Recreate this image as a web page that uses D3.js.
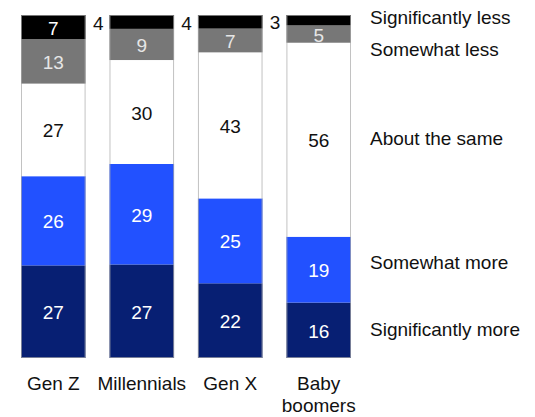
<!DOCTYPE html>
<html>
<head>
<meta charset="utf-8">
<script src="https://cdn.jsdelivr.net/npm/d3@7"></script>
<style>
  html, body { margin: 0; padding: 0; background: #fff; }
  svg { display: block; font-family: "Liberation Sans", Arial, sans-serif; }
</style>
</head>
<body>
<svg id="chart" width="535" height="417"></svg>
<script>
// Generations surveyed
const categories = ["Gen Z", "Millennials", "Gen X", "Baby boomers"];

// Response shares (%), bottom to top of each stack
const significantlyMore = [27, 27, 22, 16];
const somewhatMore      = [26, 29, 25, 19];
const aboutTheSame      = [27, 30, 43, 56];
const somewhatLess      = [13, 9, 7, 5];
const significantlyLess = [7, 4, 4, 3];

const seriesNames = ["Significantly more", "Somewhat more", "About the same", "Somewhat less", "Significantly less"];
const seriesValues = [significantlyMore, somewhatMore, aboutTheSame, somewhatLess, significantlyLess];

const colors = ["#071f73", "#2251ff", "#ffffff", "#777777", "#000000"];
const textColors = ["#ffffff", "#ffffff", "#111111", "#e6e6e6", "#ffffff"];

const svg = d3.select("#chart");
const margin = { top: 15, bottom: 59 };
const height = 417;
const fontSize = 19;

// Build rows, each normalised so that a bar fills the full height
const rows = categories.map((c, i) => {
  const row = { category: c };
  seriesNames.forEach((s, k) => row[s] = seriesValues[k][i]);
  const total = d3.sum(seriesNames, s => row[s]);
  seriesNames.forEach(s => row["n_" + s] = row[s] / total);
  return row;
});

const stacked = d3.stack().keys(seriesNames.map(s => "n_" + s))(rows);

const x = d3.scaleBand()
  .domain(categories)
  .range([21, 351])
  .paddingInner(0.27)
  .paddingOuter(0);

const y = d3.scaleLinear()
  .domain([0, 1])
  .range([height - margin.bottom, margin.top]);

const layers = svg.append("g").selectAll("g")
  .data(stacked)
  .join("g");

layers.each(function (layer, k) {
  const g = d3.select(this);
  g.selectAll("rect")
    .data(layer)
    .join("rect")
    .attr("x", d => x(d.data.category))
    .attr("width", x.bandwidth())
    .attr("y", d => y(d[1]))
    .attr("height", d => Math.max(0, y(d[0]) - y(d[1])))
    .attr("fill", colors[k]);

  g.selectAll("text")
    .data(layer)
    .join("text")
    .each(function (d) {
      const val = d.data[seriesNames[k]];
      const h = y(d[0]) - y(d[1]);
      const t = d3.select(this).text(val)
        .attr("font-size", fontSize)
        .attr("dominant-baseline", "central");
      if (h < 15) {
        // too thin: value sits to the left of the bar
        t.attr("x", x(d.data.category) - 6)
         .attr("y", (y(d[0]) + y(d[1])) / 2 + 2)
         .attr("text-anchor", "end")
         .attr("fill", "#111");
      } else {
        t.attr("x", x(d.data.category) + x.bandwidth() / 2)
         .attr("y", (y(d[0]) + y(d[1])) / 2 + 1)
         .attr("text-anchor", "middle")
         .attr("fill", textColors[k]);
      }
    });
});

// Thin grey outline round each bar
svg.append("g").selectAll("rect")
  .data(categories)
  .join("rect")
  .attr("x", d => x(d) + 0.5)
  .attr("y", y(1) + 0.5)
  .attr("width", x.bandwidth() - 1)
  .attr("height", y(0) - y(1) - 1)
  .attr("fill", "none")
  .attr("stroke", "#a8a8a8")
  .attr("stroke-opacity", 0.7);

// Category labels under the bars
const xAxis = svg.append("g")
  .attr("transform", `translate(0,${height - margin.bottom})`)
  .call(d3.axisBottom(x).tickSize(0).tickPadding(0));
xAxis.select(".domain").remove();
xAxis.selectAll(".tick text").remove();
xAxis.selectAll(".tick").each(function (d) {
  const words = d === "Baby boomers" ? ["Baby", "boomers"] : [d];
  const t = d3.select(this).append("text")
    .attr("fill", "#111")
    .attr("font-size", fontSize)
    .attr("text-anchor", "middle");
  words.forEach((w, i) => t.append("tspan").attr("x", 0).attr("y", 32 + i * 22).text(w));
});

// Legend on the right, top to bottom
const legendY = { "Significantly less": 17, "Somewhat less": 49, "About the same": 138,
                  "Somewhat more": 262, "Significantly more": 329 };
svg.append("g").selectAll("text")
  .data(seriesNames.slice().reverse())
  .join("text")
  .attr("x", 370)
  .attr("y", d => legendY[d])
  .attr("dominant-baseline", "central")
  .attr("font-size", fontSize)
  .attr("fill", "#111")
  .text(d => d);
</script>
</body>
</html>
